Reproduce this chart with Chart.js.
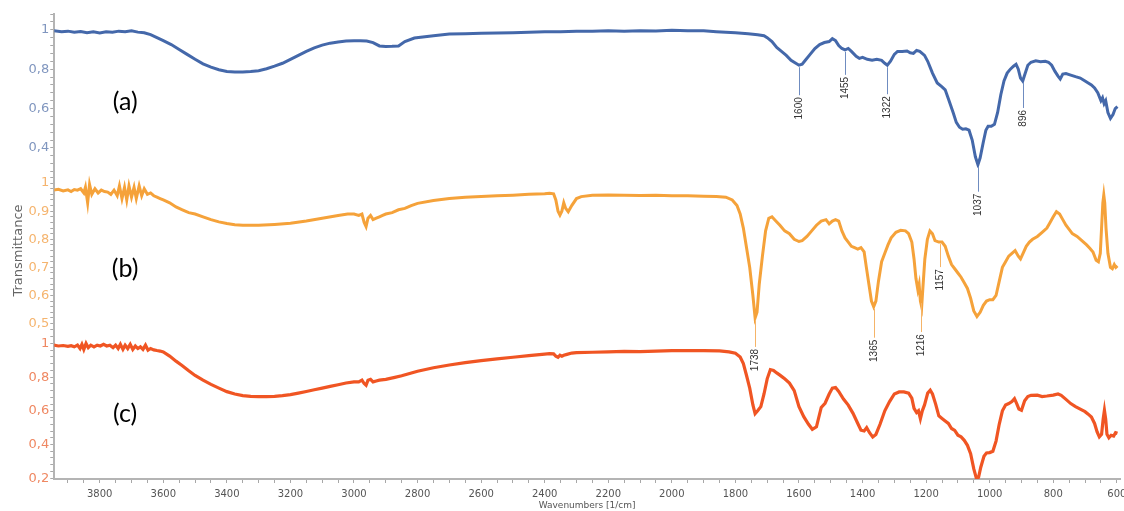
<!DOCTYPE html>
<html>
<head>
<meta charset="utf-8">
<script src="https://cdn.jsdelivr.net/npm/chart.js@4.4.1/dist/chart.umd.min.js"></script>
<style>
  html, body { margin: 0; padding: 0; background: #fff; }
  #wrap { width: 1124px; height: 511px; }
</style>
</head>
<body>
<div id="wrap"><canvas id="ftirChart"></canvas></div>
<script>
// Spectrum (a) - blue
const waveA = [3945, 3920, 3900, 3880, 3860, 3840, 3820, 3800, 3780, 3760, 3740, 3720, 3700, 3680, 3660, 3640, 3620, 3600, 3575, 3550, 3525, 3500, 3475, 3450, 3425, 3400, 3375, 3350, 3325, 3300, 3275, 3250, 3225, 3200, 3175, 3150, 3125, 3100, 3075, 3050, 3025, 3000, 2980, 2960, 2940, 2920, 2900, 2880, 2860, 2840, 2810, 2750, 2700, 2650, 2600, 2550, 2500, 2450, 2400, 2350, 2300, 2250, 2200, 2150, 2100, 2050, 2000, 1950, 1900, 1860, 1830, 1800, 1760, 1730, 1710, 1700, 1685, 1670, 1655, 1640, 1625, 1610, 1600, 1590, 1580, 1565, 1550, 1535, 1520, 1505, 1495, 1485, 1475, 1465, 1455, 1445, 1435, 1420, 1410, 1400, 1385, 1370, 1355, 1340, 1330, 1322, 1312, 1300, 1290, 1275, 1260, 1250, 1240, 1230, 1220, 1205, 1195, 1180, 1165, 1150, 1140, 1130, 1115, 1105, 1095, 1085, 1075, 1065, 1055, 1045, 1037, 1030, 1020, 1012, 1005, 995, 985, 975, 965, 955, 945, 935, 925, 917, 910, 903, 896, 890, 880, 870, 855, 840, 825, 815, 805, 795, 785, 778, 770, 760, 745, 730, 715, 700, 690, 680, 670, 660, 650, 645, 640, 635, 628, 620, 612, 605, 598];
const transA = [0.995, 0.99, 0.993, 0.987, 0.991, 0.985, 0.99, 0.984, 0.99, 0.987, 0.993, 0.99, 0.995, 0.988, 0.985, 0.975, 0.96, 0.945, 0.925, 0.9, 0.875, 0.85, 0.827, 0.81, 0.797, 0.788, 0.786, 0.786, 0.788, 0.792, 0.802, 0.815, 0.83, 0.85, 0.87, 0.89, 0.908, 0.922, 0.932, 0.938, 0.943, 0.944, 0.944, 0.943, 0.935, 0.918, 0.915, 0.916, 0.918, 0.94, 0.958, 0.97, 0.978, 0.98, 0.982, 0.984, 0.985, 0.987, 0.99, 0.99, 0.992, 0.993, 0.995, 0.993, 0.995, 0.994, 0.997, 0.995, 0.995, 0.99, 0.987, 0.985, 0.98, 0.975, 0.97, 0.96, 0.94, 0.91, 0.89, 0.87, 0.845, 0.83, 0.82, 0.825, 0.845, 0.875, 0.905, 0.925, 0.935, 0.94, 0.955, 0.945, 0.92, 0.905, 0.898, 0.905, 0.89, 0.865, 0.855, 0.86, 0.85, 0.845, 0.85, 0.845, 0.83, 0.82, 0.84, 0.875, 0.89, 0.89, 0.892, 0.883, 0.88, 0.895, 0.89, 0.87, 0.84, 0.78, 0.73, 0.71, 0.695, 0.65, 0.58, 0.53, 0.505, 0.495, 0.497, 0.49, 0.44, 0.355, 0.315, 0.35, 0.43, 0.49, 0.51, 0.51, 0.52, 0.58, 0.67, 0.74, 0.78, 0.8, 0.815, 0.825, 0.8, 0.755, 0.74, 0.77, 0.82, 0.835, 0.842, 0.838, 0.84, 0.835, 0.82, 0.79, 0.765, 0.75, 0.775, 0.778, 0.77, 0.762, 0.755, 0.74, 0.73, 0.72, 0.705, 0.68, 0.64, 0.655, 0.625, 0.64, 0.58, 0.55, 0.57, 0.6, 0.61];

// Spectrum (b) - orange
const waveB = [3945, 3930, 3915, 3900, 3890, 3880, 3870, 3860, 3850, 3845, 3838, 3832, 3825, 3815, 3805, 3795, 3785, 3775, 3765, 3755, 3745, 3738, 3730, 3722, 3715, 3708, 3700, 3692, 3685, 3676, 3668, 3660, 3650, 3640, 3630, 3620, 3610, 3600, 3580, 3560, 3540, 3520, 3500, 3475, 3450, 3425, 3400, 3375, 3350, 3300, 3250, 3200, 3150, 3100, 3050, 3020, 3000, 2985, 2975, 2968, 2962, 2956, 2948, 2940, 2930, 2920, 2910, 2900, 2880, 2860, 2840, 2820, 2800, 2750, 2700, 2650, 2600, 2550, 2500, 2450, 2400, 2385, 2372, 2365, 2358, 2352, 2346, 2340, 2334, 2326, 2315, 2300, 2285, 2250, 2200, 2150, 2100, 2050, 2000, 1950, 1900, 1860, 1830, 1810, 1795, 1785, 1775, 1765, 1755, 1745, 1738, 1732, 1725, 1715, 1705, 1695, 1685, 1675, 1660, 1645, 1630, 1615, 1600, 1590, 1575, 1560, 1545, 1530, 1515, 1505, 1495, 1485, 1475, 1465, 1455, 1445, 1435, 1425, 1415, 1405, 1395, 1388, 1380, 1372, 1365, 1358, 1350, 1340, 1330, 1320, 1310, 1295, 1280, 1265, 1255, 1245, 1238, 1232, 1226, 1222, 1218, 1214, 1210, 1204, 1196, 1188, 1180, 1172, 1160, 1150, 1140, 1130, 1120, 1110, 1100, 1090, 1080, 1070, 1060, 1050, 1040, 1030, 1020, 1010, 1000, 990, 980, 970, 960, 950, 940, 930, 920, 910, 903, 895, 885, 875, 865, 850, 835, 820, 810, 800, 790, 780, 770, 760, 750, 740, 725, 710, 695, 685, 675, 665, 658, 652, 648, 644, 641, 638, 634, 628, 620, 614, 608, 603, 598];
const transB = [0.975, 0.978, 0.972, 0.976, 0.97, 0.977, 0.975, 0.98, 0.965, 0.985, 0.93, 0.995, 0.96, 0.98, 0.965, 0.975, 0.97, 0.968, 0.96, 0.975, 0.955, 0.99, 0.945, 0.985, 0.94, 0.99, 0.95, 0.985, 0.945, 0.99, 0.955, 0.98, 0.96, 0.965, 0.955, 0.95, 0.945, 0.94, 0.93, 0.915, 0.905, 0.895, 0.89, 0.88, 0.87, 0.862, 0.856, 0.852, 0.85, 0.85, 0.853, 0.857, 0.865, 0.875, 0.885, 0.89, 0.89, 0.885, 0.89, 0.86, 0.845, 0.875, 0.885, 0.87, 0.875, 0.88, 0.885, 0.89, 0.895, 0.905, 0.91, 0.92, 0.928, 0.938, 0.945, 0.95, 0.952, 0.955, 0.957, 0.96, 0.962, 0.964, 0.962, 0.94, 0.9, 0.886, 0.9, 0.93, 0.91, 0.898, 0.92, 0.945, 0.952, 0.957, 0.958, 0.957, 0.956, 0.957, 0.955, 0.955, 0.953, 0.952, 0.95, 0.94, 0.92, 0.89, 0.84, 0.77, 0.7, 0.6, 0.52, 0.54, 0.64, 0.74, 0.83, 0.875, 0.88, 0.868, 0.85, 0.83, 0.82, 0.8, 0.792, 0.795, 0.81, 0.83, 0.85, 0.865, 0.87, 0.855, 0.865, 0.87, 0.865, 0.83, 0.805, 0.79, 0.775, 0.77, 0.765, 0.77, 0.755, 0.7, 0.64, 0.58, 0.56, 0.58, 0.65, 0.72, 0.75, 0.78, 0.805, 0.825, 0.832, 0.83, 0.82, 0.79, 0.73, 0.66, 0.62, 0.64, 0.58, 0.56, 0.63, 0.73, 0.8, 0.83, 0.82, 0.795, 0.79, 0.79, 0.775, 0.74, 0.71, 0.695, 0.68, 0.665, 0.645, 0.625, 0.59, 0.545, 0.525, 0.54, 0.565, 0.58, 0.585, 0.585, 0.6, 0.65, 0.7, 0.72, 0.74, 0.75, 0.76, 0.74, 0.73, 0.75, 0.775, 0.79, 0.8, 0.81, 0.825, 0.84, 0.86, 0.88, 0.898, 0.89, 0.87, 0.85, 0.835, 0.82, 0.81, 0.795, 0.78, 0.768, 0.755, 0.725, 0.72, 0.75, 0.84, 0.93, 0.958, 0.93, 0.84, 0.75, 0.7, 0.695, 0.71, 0.7, 0.705];

// Spectrum (c) - red
const waveC = [3945, 3930, 3915, 3900, 3890, 3880, 3870, 3862, 3856, 3850, 3843, 3836, 3828, 3818, 3808, 3798, 3788, 3778, 3768, 3758, 3750, 3742, 3735, 3727, 3720, 3712, 3704, 3696, 3688, 3680, 3672, 3664, 3656, 3648, 3640, 3630, 3620, 3610, 3600, 3580, 3560, 3540, 3520, 3500, 3475, 3450, 3425, 3400, 3375, 3350, 3325, 3300, 3275, 3250, 3225, 3200, 3175, 3150, 3125, 3100, 3075, 3050, 3025, 3000, 2985, 2975, 2968, 2962, 2956, 2948, 2940, 2930, 2920, 2900, 2875, 2850, 2825, 2800, 2750, 2700, 2650, 2600, 2550, 2500, 2450, 2400, 2385, 2372, 2365, 2358, 2352, 2346, 2340, 2330, 2315, 2300, 2250, 2200, 2150, 2100, 2050, 2000, 1950, 1900, 1850, 1820, 1800, 1785, 1775, 1765, 1755, 1745, 1738, 1730, 1720, 1710, 1700, 1690, 1680, 1670, 1660, 1645, 1630, 1615, 1600, 1585, 1570, 1558, 1545, 1530, 1518, 1505, 1495, 1485, 1475, 1460, 1445, 1430, 1415, 1405, 1395, 1387, 1378, 1368, 1358, 1345, 1330, 1315, 1300, 1285, 1270, 1255, 1245, 1238, 1230, 1224, 1218, 1212, 1205, 1195, 1187, 1180, 1170, 1160, 1150, 1140, 1130, 1120, 1110, 1100, 1090, 1080, 1070, 1060, 1050, 1042, 1035, 1028, 1018, 1010, 1000, 990, 980, 970, 960, 950, 940, 930, 922, 915, 908, 900, 890, 880, 870, 850, 835, 820, 800, 785, 775, 760, 745, 730, 715, 700, 690, 680, 670, 662, 655, 648, 643, 639, 635, 631, 625, 618, 610, 604, 598];
const transC = [0.99, 0.985, 0.988, 0.983, 0.987, 0.98, 0.99, 0.97, 0.995, 0.965, 1.0, 0.975, 0.99, 0.98, 0.99, 0.985, 0.995, 0.985, 0.99, 0.975, 0.99, 0.97, 0.995, 0.965, 0.99, 0.97, 0.995, 0.965, 0.985, 0.97, 0.98, 0.965, 0.99, 0.96, 0.97, 0.962, 0.958, 0.955, 0.95, 0.925, 0.895, 0.868, 0.838, 0.81, 0.782, 0.757, 0.735, 0.714, 0.7, 0.69, 0.686, 0.684, 0.684, 0.686, 0.69, 0.696, 0.705, 0.715, 0.725, 0.735, 0.745, 0.755, 0.765, 0.772, 0.772, 0.782, 0.762, 0.752, 0.782, 0.787, 0.772, 0.777, 0.782, 0.787, 0.797, 0.808, 0.822, 0.835, 0.856, 0.872, 0.886, 0.898, 0.908, 0.918, 0.928, 0.937, 0.94, 0.938, 0.925, 0.918, 0.93, 0.924, 0.93, 0.935, 0.943, 0.946, 0.948, 0.95, 0.953, 0.952, 0.955, 0.958, 0.958, 0.958, 0.956, 0.95, 0.942, 0.92, 0.88, 0.81, 0.735, 0.635, 0.583, 0.6, 0.625, 0.7, 0.79, 0.845, 0.84, 0.825, 0.812, 0.79, 0.765, 0.72, 0.625, 0.565, 0.52, 0.49, 0.505, 0.62, 0.645, 0.7, 0.735, 0.738, 0.715, 0.67, 0.634, 0.585, 0.525, 0.485, 0.48, 0.5, 0.47, 0.445, 0.46, 0.52, 0.6, 0.655, 0.7, 0.712, 0.712, 0.705, 0.675, 0.615, 0.59, 0.6, 0.553, 0.6, 0.635, 0.705, 0.722, 0.7, 0.64, 0.57, 0.555, 0.54, 0.525, 0.495, 0.484, 0.455, 0.445, 0.425, 0.395, 0.345, 0.255, 0.2, 0.205, 0.265, 0.33, 0.35, 0.352, 0.36, 0.42, 0.52, 0.6, 0.635, 0.643, 0.655, 0.672, 0.643, 0.61, 0.603, 0.66, 0.685, 0.692, 0.693, 0.685, 0.688, 0.693, 0.7, 0.692, 0.668, 0.643, 0.625, 0.61, 0.595, 0.58, 0.563, 0.525, 0.475, 0.445, 0.46, 0.55, 0.603, 0.55, 0.46, 0.44, 0.455, 0.45, 0.47, 0.466];

// Marked peaks and their labels
const peaksA = [1600, 1455, 1322, 1037, 896];
const peaksB = [1738, 1365, 1216, 1157];
const panelLabels = ["(a)", "(b)", "(c)"];
const xTickStep = 200;

// Styles
const colorA = "#4468aa";
const colorB = "#f5a23a";
const colorC = "#f05523";
const peakLenA = [28, 23, 27, 25, 25];
const peakLenB = [27, 29, 29, 23];

function toPoints(waves, vals) {
  return waves.map((w, i) => ({ x: w, y: vals[i] }));
}

function valueAt(waves, vals, w) {
  let best = 0;
  for (let i = 1; i < waves.length; i++) {
    if (Math.abs(waves[i] - w) < Math.abs(waves[best] - w)) best = i;
  }
  return vals[best];
}

function isMultiple(v, step) {
  const r = v / step;
  return Math.abs(r - Math.round(r)) < 1e-6;
}

function commaLabel(v) {
  return String(Math.round(v * 100) / 100).replace(".", ",");
}

// Draw peak markers and (a)/(b)/(c) labels
const peakPlugin = {
  id: "peakMarks",
  afterDatasetsDraw(chart) {
    const ctx = chart.ctx;
    const xs = chart.scales.x;
    const groups = [
      { peaks: peaksA, lens: peakLenA, waves: waveA, vals: transA, y: chart.scales.ya, color: "#6f8cc0" },
      { peaks: peaksB, lens: peakLenB, waves: waveB, vals: transB, y: chart.scales.yb, color: "#f5b468" },
    ];
    ctx.save();
    groups.forEach((g) => {
      g.peaks.forEach((p, i) => {
        const x = Math.round(xs.getPixelForValue(p)) + 0.5;
        const y0 = g.y.getPixelForValue(valueAt(g.waves, g.vals, p)) + 2;
        const y1 = y0 + g.lens[i];
        ctx.strokeStyle = g.color;
        ctx.lineWidth = 1;
        ctx.beginPath();
        ctx.moveTo(x, y0);
        ctx.lineTo(x, y1);
        ctx.stroke();
        ctx.save();
        ctx.translate(x, y1 + 2);
        ctx.rotate(-Math.PI / 2);
        ctx.fillStyle = "#333";
        ctx.font = "10px 'Liberation Sans'";
        ctx.textAlign = "right";
        ctx.textBaseline = "middle";
        ctx.fillText(String(p), 0, 0);
        ctx.restore();
      });
    });

    // panel letters
    const panels = [
      { s: chart.scales.ya, v: 0.634 },
      { s: chart.scales.yb, v: 0.696 },
      { s: chart.scales.yc, v: 0.579 },
    ];
    ctx.fillStyle = "#000";
    ctx.font = "25px Lato";
    ctx.textAlign = "center";
    ctx.textBaseline = "middle";
    panels.forEach((p, i) => {
      ctx.fillText(panelLabels[i], xs.getPixelForValue(3720), p.s.getPixelForValue(p.v));
    });
    ctx.restore();
  },
};

function yAxis(min, max, step, labelStep, color, weight, withTitle) {
  return {
    type: "linear",
    position: "left",
    stack: "spectra",
    stackWeight: weight,
    min: min,
    max: max,
    border: { color: "#b4b4b4", width: 2 },
    grid: { drawOnChartArea: false, tickLength: 4, color: "#a8a8a8" },
    title: {
      display: withTitle,
      text: "Transmittance",
      color: "#666",
      font: { family: "DejaVu Sans", size: 13 },
      padding: { top: 0, bottom: 1 },
    },
    ticks: {
      stepSize: step,
      includeBounds: false,
      autoSkip: false,
      color: color,
      padding: 1,
      font: { family: "DejaVu Sans", size: 13 },
      callback: (v) => (isMultiple(v, labelStep) ? commaLabel(v) : ""),
    },
  };
}

document.addEventListener("DOMContentLoaded", function () {
  const ctx = document.getElementById("ftirChart").getContext("2d");
  new Chart(ctx, {
    type: "line",
    data: {
      datasets: [
        { data: toPoints(waveA, transA), yAxisID: "ya", borderColor: colorA, borderWidth: 3 },
        { data: toPoints(waveB, transB), yAxisID: "yb", borderColor: colorB, borderWidth: 3 },
        { data: toPoints(waveC, transC), yAxisID: "yc", borderColor: colorC, borderWidth: 3.2 },
      ],
    },
    options: {
      responsive: true,
      maintainAspectRatio: false,
      animation: false,
      layout: { padding: { left: 11, right: 4, top: 14, bottom: 0 } },
      elements: { point: { radius: 0 }, line: { tension: 0 } },
      plugins: { legend: { display: false }, tooltip: { enabled: false } },
      scales: {
        x: {
          type: "linear",
          reverse: true,
          min: 590,
          max: 3943,
          border: { color: "#b4b4b4", width: 2 },
          grid: { drawOnChartArea: false, tickLength: 4, color: "#a8a8a8" },
          title: {
            display: true,
            text: "Wavenumbers [1/cm]",
            color: "#555",
            font: { family: "DejaVu Sans", size: 9, lineHeight: 1 },
            padding: { top: -4, bottom: 1 },
          },
          ticks: {
            stepSize: 50,
            includeBounds: false,
            autoSkip: false,
            maxRotation: 0,
            color: "#555",
            padding: 6,
            font: { family: "DejaVu Sans", size: 10, lineHeight: 1 },
            callback: (v) => (isMultiple(v, xTickStep) ? String(v) : ""),
          },
          afterFit: (scale) => {
            // let the 600 label hang over the plot edge like the original
            scale.paddingRight = 0;
          },
        },
        yc: yAxis(0.195, 1.06, 0.04, 0.2, "#ef8862", 145, false),
        yb: yAxis(0.465, 1.055, 0.02, 0.1, "#f5b46e", 165, true),
        ya: yAxis(0.3, 1.08, 0.04, 0.2, "#8096bf", 153, false),
      },
    },
    plugins: [peakPlugin],
  });
});
</script>
</body>
</html>
